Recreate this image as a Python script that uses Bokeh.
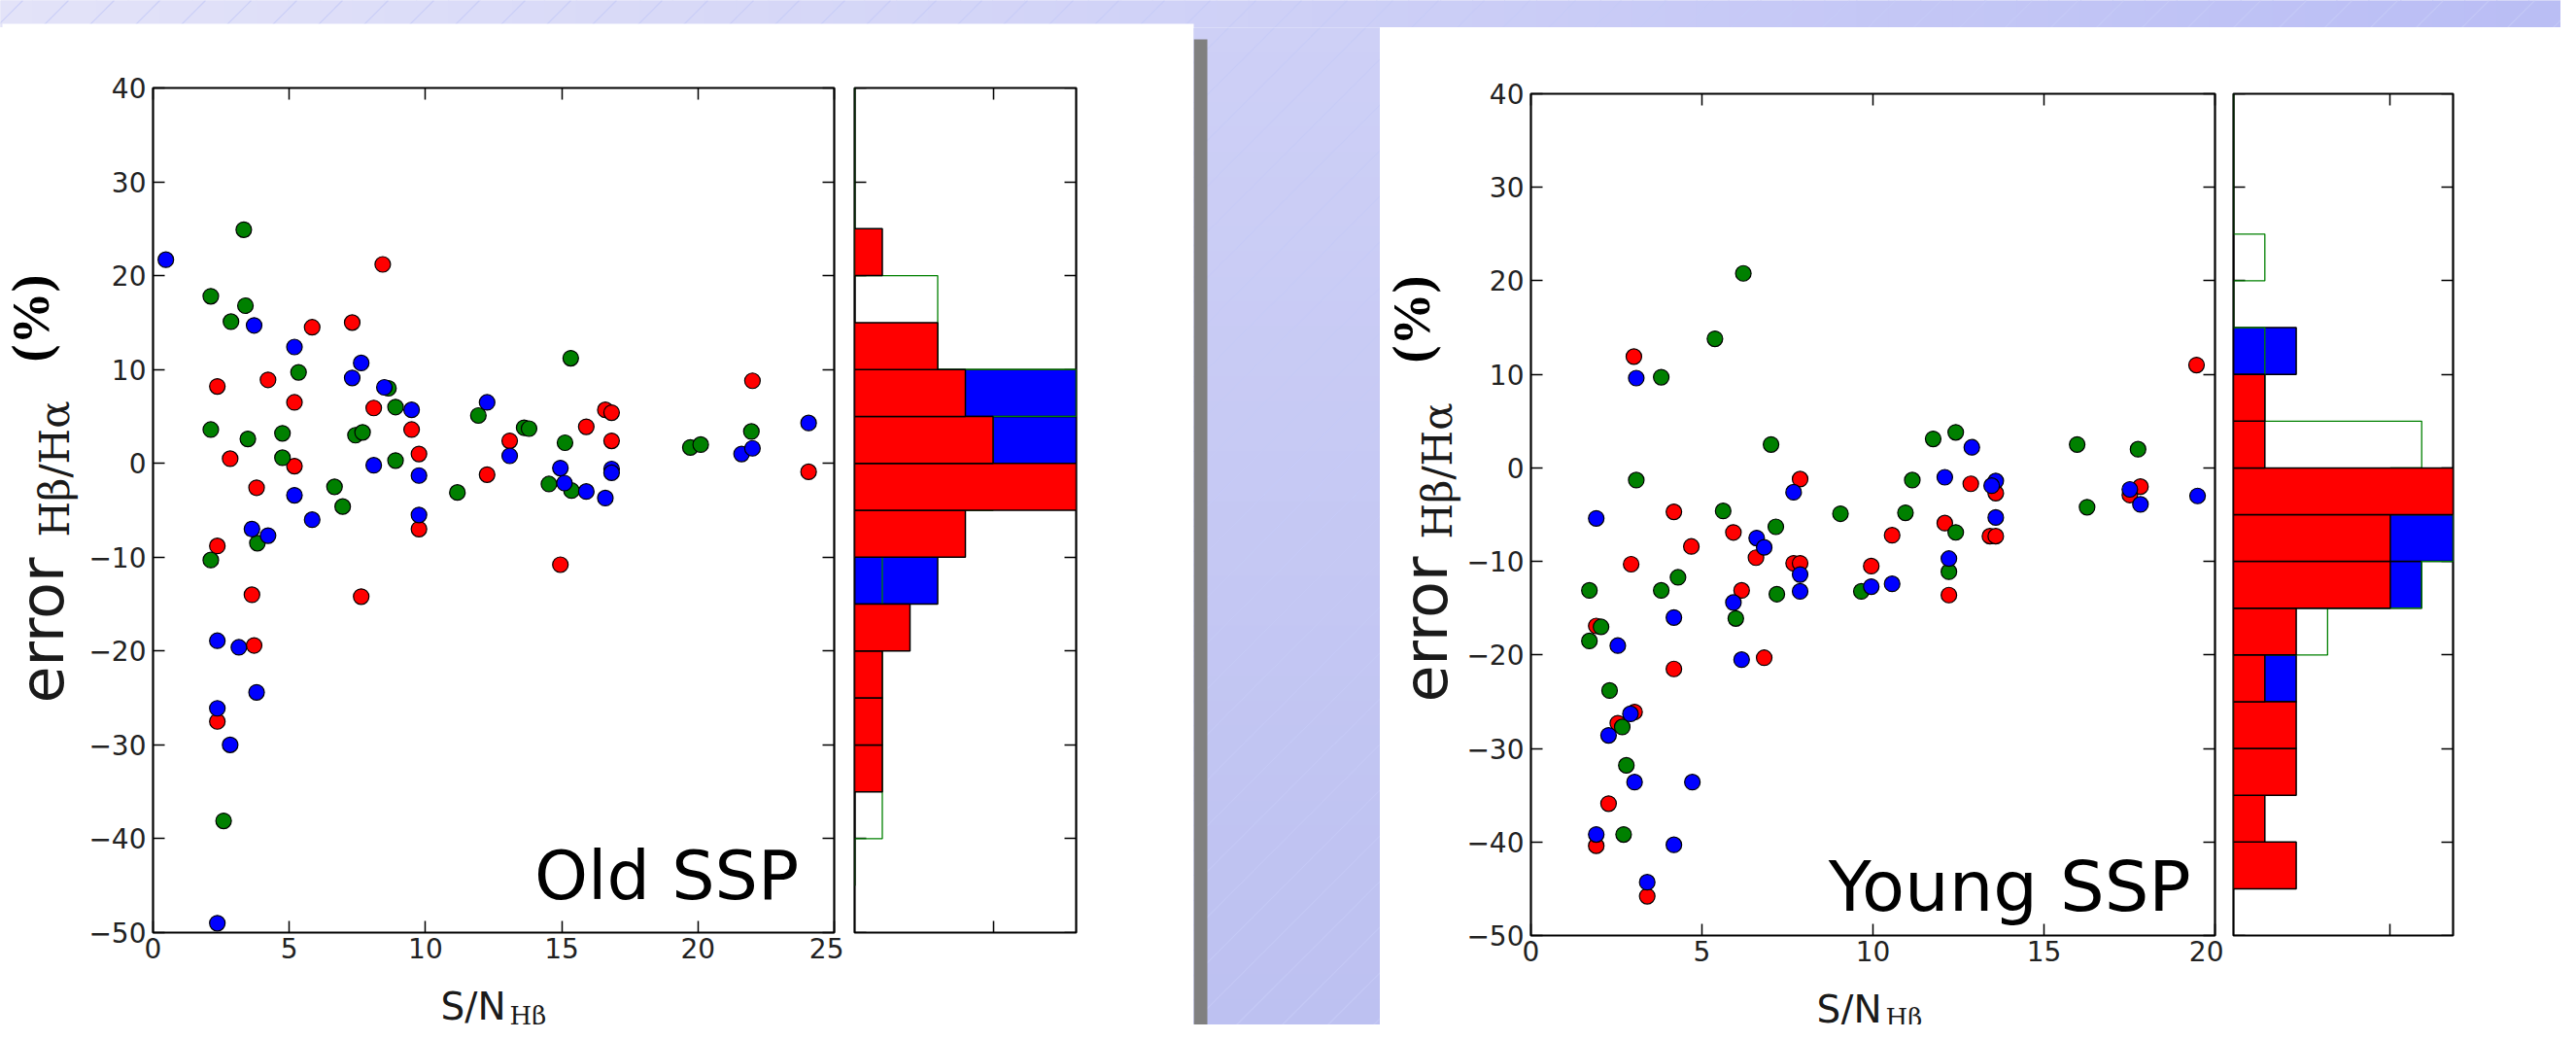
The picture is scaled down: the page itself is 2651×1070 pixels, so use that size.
import math
from bokeh.plotting import figure
from bokeh.models import Range1d, LinearAxis, FixedTicker, CustomJSTickFormatter, Label
from bokeh.layouts import row, column
from bokeh.core.properties import value
from bokeh.embed import file_html
from bokeh.resources import INLINE

# ------------------------------------------------------------------ data
y_ticks = [-50, -40, -30, -20, -10, 0, 10, 20, 30, 40]
old_x_ticks = [0, 5, 10, 15, 20, 25]
young_x_ticks = [0, 5, 10, 15, 20]
hist_x_ticks = [5]
bin_edges = [-45, -40, -35, -30, -25, -20, -15, -10, -5, 0, 5, 10, 15, 20, 25, 30, 35, 40]

# Old SSP scatter
old_blue_x = [0.47, 3.71, 5.19, 7.31, 7.64, 8.49, 9.49, 12.26, 13.09, 8.10, 9.76, 5.19, 5.84, 3.63, 4.22,
              9.76, 14.95, 15.10, 15.90, 16.60, 16.83, 16.83, 21.60, 22.00, 24.06, 2.36, 3.15, 3.80, 2.36, 2.83, 2.36]
old_blue_y = [21.7, 14.7, 12.4, 9.1, 10.7, 8.1, 5.7, 6.5, 0.8, -0.2, -1.3, -3.4, -6.0, -7.0, -7.7,
              -5.5, -0.5, -2.1, -3.0, -3.7, -0.6, -1.0, 1.0, 1.6, 4.3, -18.9, -19.6, -24.4, -26.1, -30.0, -49.0]
old_red_x = [8.43, 5.84, 7.31, 2.36, 4.22, 5.19, 8.10, 9.49, 2.83, 5.19, 9.76, 13.09, 12.26, 15.90, 16.60,
             16.83, 16.83, 22.00, 24.06, 3.80, 2.36, 9.76, 3.63, 7.64, 14.95, 3.71, 2.36]
old_red_y = [21.2, 14.5, 15.0, 8.2, 8.9, 6.5, 5.9, 3.6, 0.5, -0.3, 1.0, 2.4, -1.2, 3.9, 5.7,
             5.4, 2.4, 8.8, -0.9, -2.6, -8.8, -7.0, -14.0, -14.2, -10.8, -19.4, -27.5]
old_green_x = [3.33, 2.12, 3.39, 2.86, 15.33, 5.34, 8.64, 8.90, 11.94, 2.12, 3.48, 4.75, 7.43, 7.69, 13.62,
               13.80, 15.12, 4.75, 8.90, 19.72, 20.10, 21.96, 6.66, 6.96, 11.17, 14.53, 15.36, 3.83, 2.12, 2.59]
old_green_y = [24.9, 17.8, 16.8, 15.1, 11.2, 9.7, 8.0, 6.0, 5.1, 3.6, 2.6, 3.2, 3.0, 3.3, 3.8,
               3.7, 2.2, 0.6, 0.3, 1.7, 2.0, 3.4, -2.5, -4.6, -3.1, -2.2, -2.9, -8.5, -10.3, -38.1]

# Old SSP histogram counts (bins from -45 to 40)
old_hist_red = [0, 0, 1, 1, 1, 2, 0, 4, 8, 5, 4, 3, 0, 1, 0, 0, 0]
old_hist_blue = [0, 0, 0, 0, 0, 0, 3, 0, 0, 8, 8, 0, 0, 0, 0, 0, 0]
old_hist_green = [0, 1, 1, 1, 1, 1, 1, 2, 5, 5, 8, 3, 3, 0, 0, 0, 0]

# Young SSP scatter
young_blue_x = [3.08, 12.89, 12.10, 13.59, 13.47, 7.68, 17.51, 17.82, 19.49, 13.59, 1.91, 6.60, 6.82, 12.22, 7.87,
                7.87, 9.95, 10.56, 5.92, 4.18, 2.54, 6.16, 2.91, 2.27, 3.03, 4.72, 1.91, 4.18, 3.40]
young_blue_y = [9.6, 2.2, -1.0, -1.4, -1.9, -2.6, -2.3, -3.9, -3.0, -5.3, -5.4, -7.5, -8.5, -9.7, -11.4,
                -13.2, -12.7, -12.4, -14.4, -16.0, -19.0, -20.5, -26.3, -28.6, -33.6, -33.6, -39.2, -40.3, -44.3]
young_red_x = [3.01, 19.46, 7.87, 12.86, 17.82, 17.51, 13.59, 4.18, 5.92, 12.10, 10.56, 4.69, 13.42, 13.59, 6.58,
               2.93, 7.68, 7.87, 9.95, 6.16, 12.22, 1.91, 6.82, 4.18, 3.03, 2.54, 2.27, 1.91, 3.40]
young_red_y = [11.9, 11.0, -1.2, -1.7, -2.0, -2.9, -2.7, -4.7, -6.9, -5.9, -7.2, -8.4, -7.3, -7.3, -9.6,
               -10.3, -10.2, -10.2, -10.5, -13.1, -13.6, -16.9, -20.3, -21.5, -26.1, -27.3, -35.9, -40.4, -45.8]
young_green_x = [6.21, 5.38, 3.81, 7.02, 11.76, 12.42, 15.97, 17.75, 3.08, 11.15, 5.62, 9.05, 10.95, 16.26, 7.16,
                 12.42, 7.19, 3.81, 4.30, 1.71, 9.66, 12.22, 5.99, 2.05, 1.71, 2.30, 2.67, 2.79, 2.71]
young_green_y = [20.8, 13.8, 9.7, 2.5, 3.1, 3.8, 2.5, 2.0, -1.3, -1.3, -4.6, -4.9, -4.8, -4.2, -6.3,
                 -6.9, -13.5, -13.1, -11.7, -13.1, -13.2, -11.1, -16.1, -17.0, -18.5, -23.8, -27.7, -31.8, -39.2]

# Young SSP histogram counts (bins from -45 to 40)
young_hist_red = [2, 1, 2, 2, 1, 2, 5, 5, 7, 1, 1, 0, 0, 0, 0, 0, 0]
young_hist_blue = [0, 0, 0, 0, 2, 0, 6, 7, 0, 0, 0, 2, 0, 0, 0, 0, 0]
young_hist_green = [0, 0, 0, 0, 0, 3, 6, 7, 5, 6, 1, 1, 0, 1, 0, 0, 0]

# ------------------------------------------------------------------ styles
RED, BLUE, GREEN = "#ff0000", "#0000ff", "#008000"
TICK_FONT = "DejaVu Sans"
TICK_SIZE = "28px"
TICK_COLOR = "#222222"
OFF = 8  # page margin: canvas pixel = reference pixel - 8


def noalign(p):
    try:
        p.frame_align = False
    except Exception:
        pass
    return p


def minus_fmt():
    return CustomJSTickFormatter(code="return (tick < 0 ? '\\u2212' : '') + Math.abs(tick).toString();")


def add_axes(p, xt, yt, lab_bottom, lab_left, level=None):
    for loc, ticks, lab in [("below", xt, lab_bottom), ("above", xt, False),
                            ("left", yt, lab_left), ("right", yt, False)]:
        ax = LinearAxis(ticker=FixedTicker(ticks=ticks))
        ax.axis_line_color = None
        ax.major_tick_in = 12
        ax.major_tick_out = 0
        ax.minor_tick_in = 0
        ax.minor_tick_out = 0
        ax.major_tick_line_color = "black"
        ax.major_tick_line_width = 1.5
        if lab:
            ax.formatter = minus_fmt()
            ax.major_label_text_font = TICK_FONT
            ax.major_label_text_font_size = TICK_SIZE
            ax.major_label_text_color = TICK_COLOR
            ax.major_label_standoff = 5 if loc == "below" else 7
        else:
            ax.formatter = CustomJSTickFormatter(code="return '';")
            ax.major_label_text_font_size = "1px"
            ax.major_label_standoff = 0
        if level:
            ax.level = level
        p.add_layout(ax, loc)


def base_fig(width, height, xmax, bl, br, bt, bb):
    p = figure(width=width, height=height, x_range=Range1d(0, xmax), y_range=Range1d(-50, 40),
               output_backend="svg", toolbar_location=None, title_location=None,
               x_axis_location=None, y_axis_location=None,
               min_border_left=bl, min_border_right=br, min_border_top=bt, min_border_bottom=bb,
               background_fill_color="white", border_fill_color="white",
               outline_line_color="black", outline_line_width=2.2)
    p.grid.visible = False
    return noalign(p)


def frame_to_data(px, py, fr):
    x0, x1, y0, y1, xmax = fr
    return (px - x0) / (x1 - x0) * xmax, 40 - (py - y0) / (y1 - y0) * 90


def main_panel(width, height, xmax, borders, fr, xticks, red, green, blue, name, name_pos, name_size):
    p = base_fig(width, height, xmax, *borders)
    add_axes(p, xticks, y_ticks, True, True)
    for (xs, ys), col in [(red, RED), (green, GREEN), (blue, BLUE)]:
        p.scatter(xs, ys, size=16, fill_color=col, line_color="black", line_width=1.2)
    x, y = frame_to_data(*name_pos, fr)
    p.add_layout(Label(x=x, y=y, text=name, text_font="DejaVu Sans", text_font_size=name_size,
                       text_color="black", text_align="left", text_baseline="alphabetic"))
    return p


def hist_panel(width, height, xmax, borders, red, blue, green):
    p = base_fig(width, height, xmax, *borders)
    add_axes(p, hist_x_ticks, y_ticks, True, False, level="underlay")
    lo, hi = bin_edges[:-1], bin_edges[1:]
    p.quad(left=0, right=blue, bottom=lo, top=hi, fill_color=BLUE, line_color="black", line_width=1.5)
    gx, gy = [0], [bin_edges[0]]
    for c, a, b in zip(green, lo, hi):
        gx += [c, c]
        gy += [a, b]
    gx.append(0)
    gy.append(bin_edges[-1])
    p.line(gx, gy, line_color=GREEN, line_width=1.3)
    p.quad(left=0, right=red, bottom=lo, top=hi, fill_color=RED, line_color="black", line_width=1.5)
    return p


# ------------------------------------------------------------------ page pieces (reference pixel coords, y negated)
def bg_rgb(x, y):
    fx, fy = x / 2651.0, y / 1070.0
    r = 228 - 42 * fx - 18 * fy
    g = 228 - 38 * fx - 16 * fy
    b = 249 - 4 * fx - 6 * fy
    return "#%02x%02x%02x" % (int(r), int(g), int(b))


def px_fig(x0, x1, y0, y1, fill="white"):
    p = figure(width=int(x1 - x0), height=int(y1 - y0), x_range=Range1d(x0, x1), y_range=Range1d(-y1, -y0),
               output_backend="svg", toolbar_location=None, title_location=None,
               x_axis_location=None, y_axis_location=None,
               min_border=0, outline_line_color=None, background_fill_color=fill, border_fill_color=fill)
    p.grid.visible = False
    return noalign(p)


def decor(x0, x1, y0, y1, nx, ny):
    p = px_fig(x0, x1, y0, y1, fill=bg_rgb(x0, y0))
    L, R, T, B, C = [], [], [], [], []
    for i in range(nx):
        for j in range(ny):
            a = x0 + (x1 - x0) * i / nx
            b = x0 + (x1 - x0) * (i + 1) / nx
            c = y0 + (y1 - y0) * j / ny
            d = y0 + (y1 - y0) * (j + 1) / ny
            L.append(a - 0.5); R.append(b + 0.5); T.append(-(c - 0.5)); B.append(-(d + 0.5))
            C.append(bg_rgb((a + b) / 2, (c + d) / 2))
    p.quad(left=L, right=R, top=T, bottom=B, fill_color=C, line_color=None)
    ks = [k for k in range(39 - 47 * 40, int(x1 + y1) + 47, 47) if k >= x0 + y0 - 47]
    p.segment(x0=[k - y0 for k in ks], y0=[-y0] * len(ks), x1=[k - y1 for k in ks], y1=[-y1] * len(ks),
              line_color="#c6cbf6", line_width=1.2, line_alpha=0.8)
    return p


def put_text(p, x, y, txt, font, size, angle=0.0, align="center", baseline="middle", style="normal",
             color="#1a1a1a"):
    p.text(x=[x], y=[-y], text=[txt], angle=angle, text_font=value(font), text_font_size=value(size),
           text_font_style=value(style), text_align=align, text_baseline=baseline,
           text_color=color)


top = decor(OFF, 2651 - OFF, OFF, 36, 80, 1)
top.quad(left=[10], right=[1236], top=[-32], bottom=[-37], fill_color="white", line_color=None)

gap = decor(1236, 1428, 36, 1062, 1, 40)
gap.quad(left=[1236], right=[1250], top=[-48], bottom=[-1063], fill_color="#808080", line_color=None)

ROT = math.pi / 2
# y-label strips (rotated text, anchored at its centre)
ylab_l = px_fig(OFF, 96, 36, 1062)
put_text(ylab_l, 39, 335, "(%)", "Liberation Serif", "54px", ROT, style="bold", color="black")
put_text(ylab_l, 51, 656, "error", "DejaVu Sans", "62px", ROT)
put_text(ylab_l, 64, 490, "Hβ/Hα", "DejaVu Serif", "42px", ROT)

ylab_r = px_fig(1428, 1514, 36, 1062)
put_text(ylab_r, 1460, 336, "(%)", "Liberation Serif", "54px", ROT, style="bold", color="black")
put_text(ylab_r, 1475, 655, "error", "DejaVu Sans", "62px", ROT)
put_text(ylab_r, 1487, 492, "Hβ/Hα", "DejaVu Serif", "42px", ROT)

# x-label strips
xlab_l = px_fig(96, 1236, 1005, 1062)
put_text(xlab_l, 461, 1043, "S/N", "DejaVu Sans", "39px", align="left", baseline="alphabetic")
put_text(xlab_l, 532, 1052, "Hβ", "DejaVu Serif", "26px", align="left", baseline="alphabetic")

xlab_r = px_fig(1514, 2651 - OFF, 1008, 1062)
put_text(xlab_r, 1877, 1046, "S/N", "DejaVu Sans", "39px", align="left", baseline="alphabetic")
put_text(xlab_r, 1948, 1054, "Hβ", "DejaVu Serif", "26px", align="left", baseline="alphabetic")

# ------------------------------------------------------------------ panels
old_frame = (164, 866, 98, 967, 25)
young_frame = (1581, 2287, 104, 970, 20)

old_main = main_panel(780, 969, 25, (68, 10, 62, 38), old_frame, old_x_ticks,
                      (old_red_x, old_red_y), (old_green_x, old_green_y), (old_blue_x, old_blue_y),
                      "Old SSP", (557, 908), "70px")
old_hist = hist_panel(360, 969, 8, (11, 121, 62, 38), old_hist_red, old_hist_blue, old_hist_green)

young_main = main_panel(782, 972, 20, (67, 9, 68, 38), young_frame, young_x_ticks,
                        (young_red_x, young_red_y), (young_green_x, young_green_y),
                        (young_blue_x, young_blue_y), "Young SSP", (1888, 919), "72px")
young_hist = hist_panel(347, 972, 7, (10, 111, 68, 38), young_hist_red, young_hist_blue, young_hist_green)

left_block = column(row(old_main, old_hist), xlab_l)
right_block = column(row(young_main, young_hist), xlab_r)
layout = column(top, row(ylab_l, left_block, gap, ylab_r, right_block))

open("out.html", "w").write(file_html(layout, INLINE))
